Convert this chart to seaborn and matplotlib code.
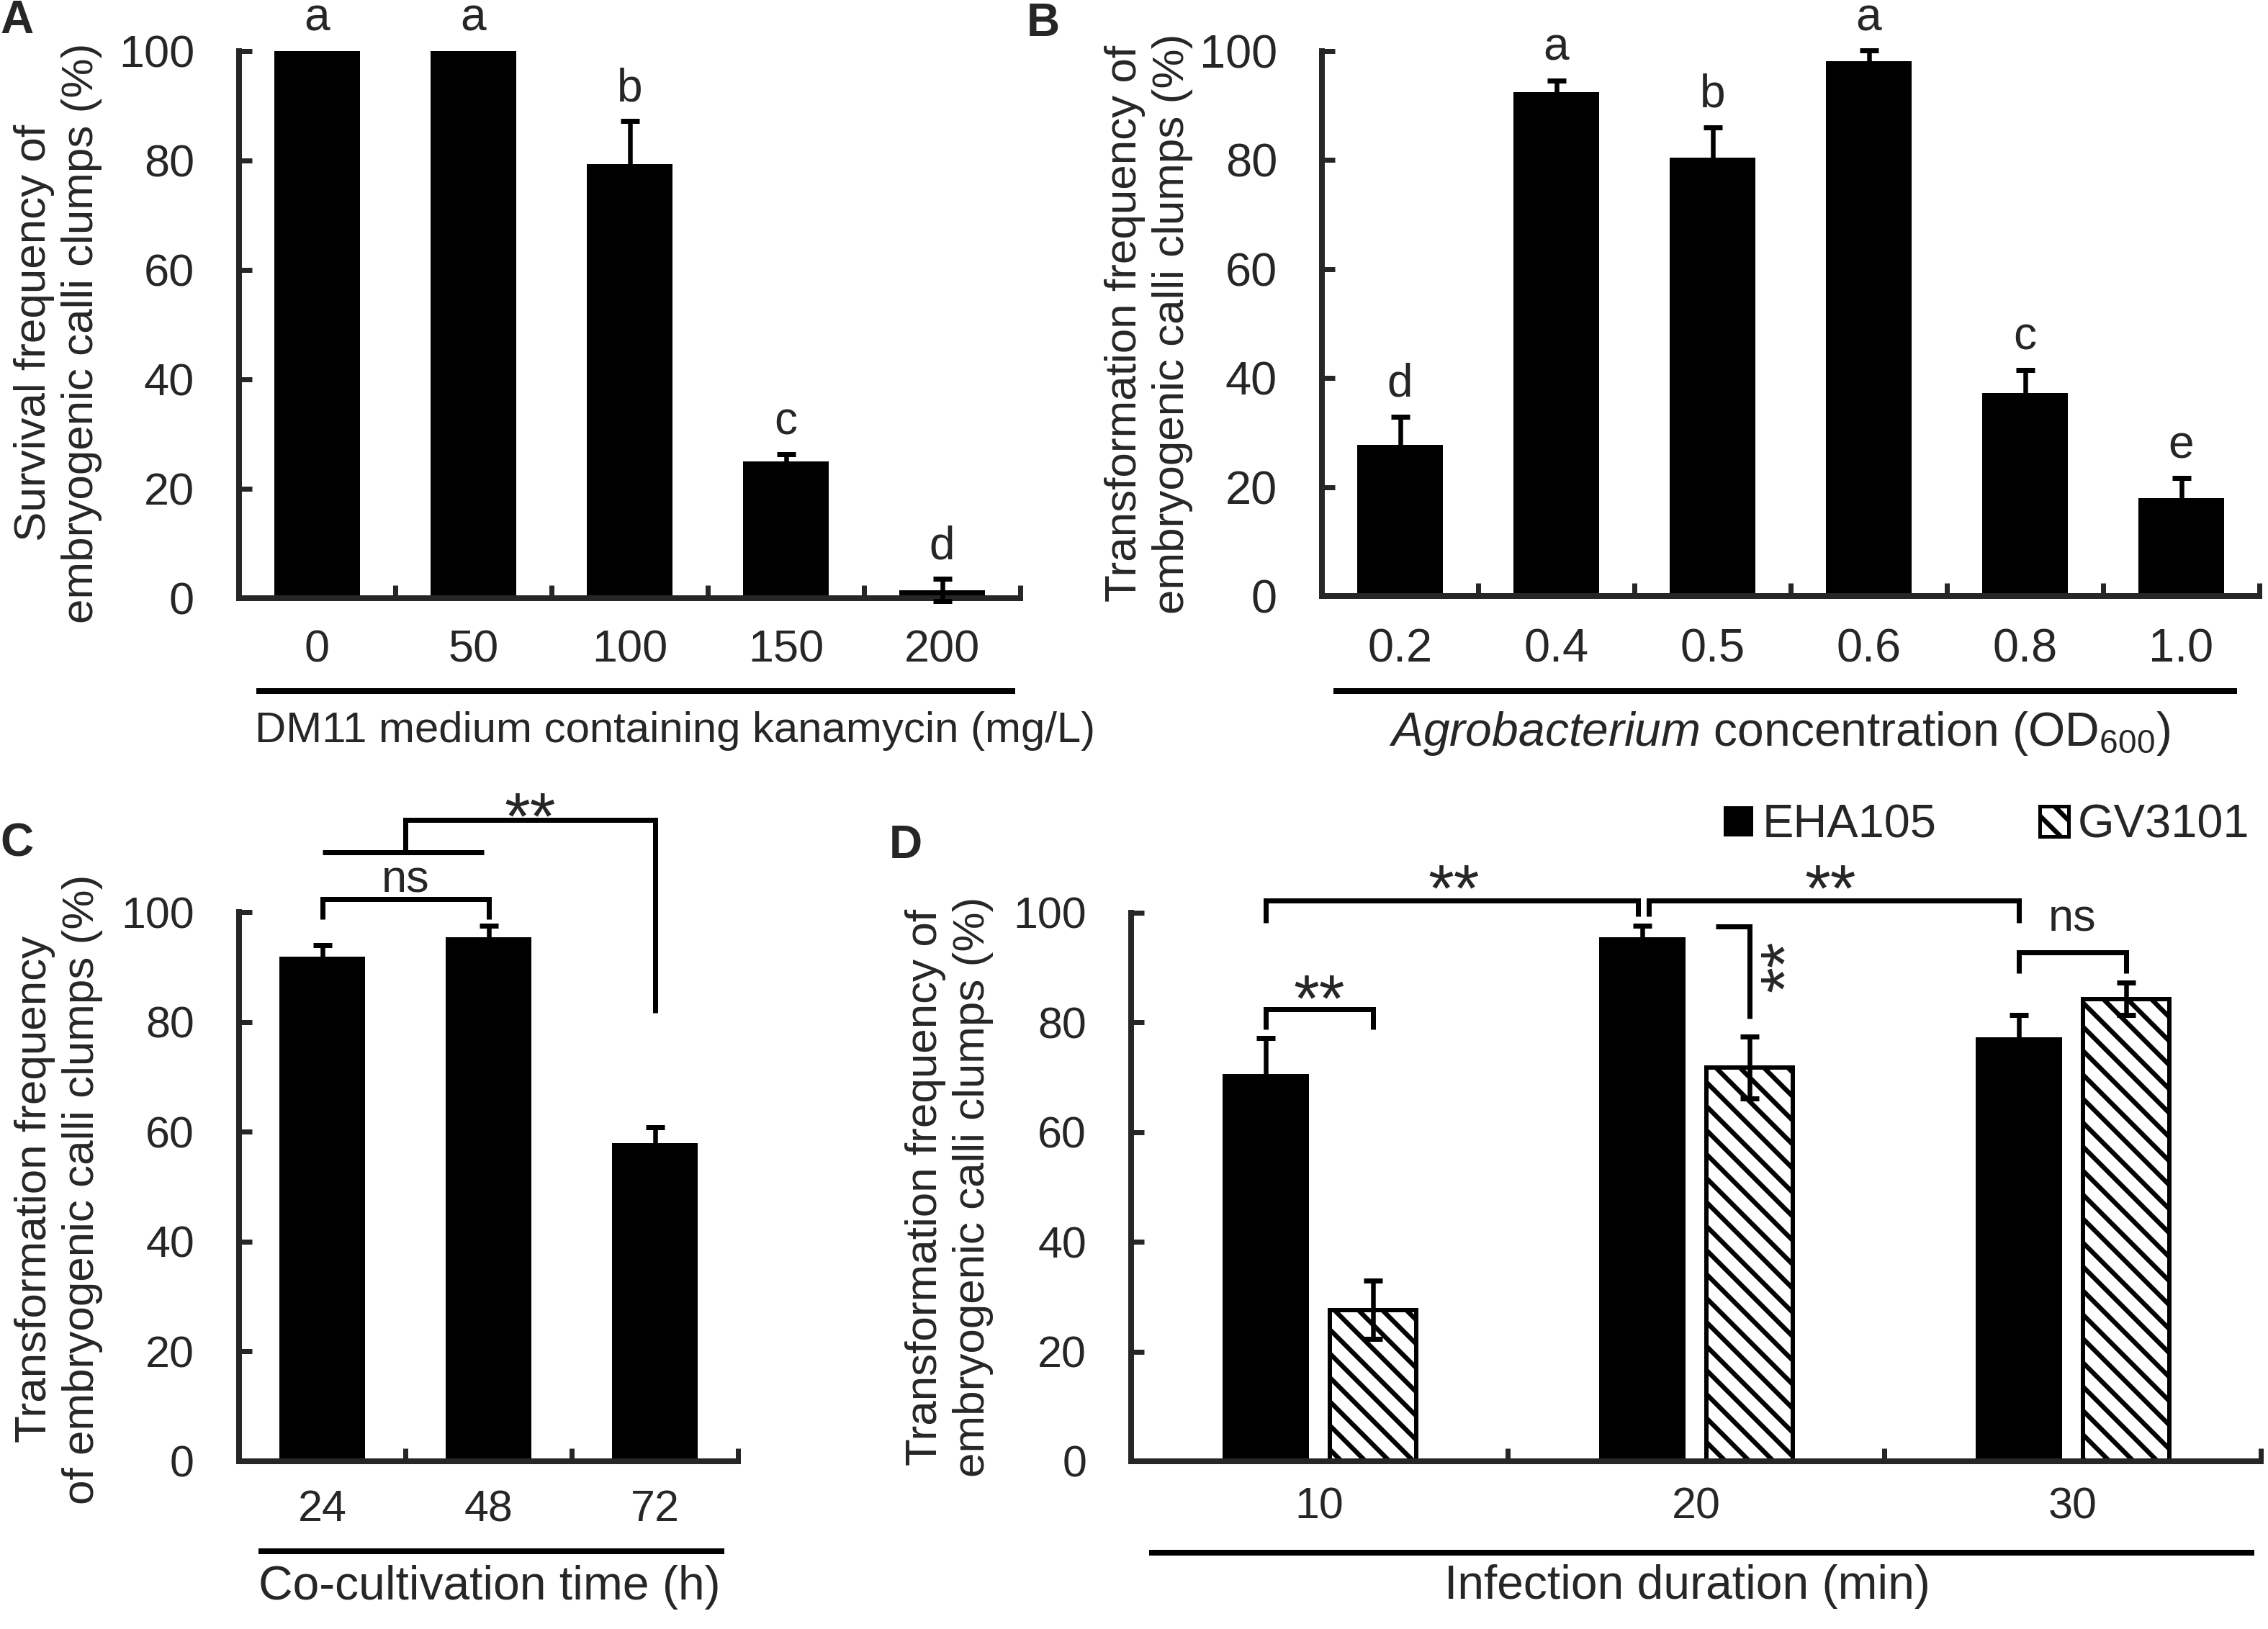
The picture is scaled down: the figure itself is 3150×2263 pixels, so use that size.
import numpy as np
import pandas as pd
import matplotlib
matplotlib.use("Agg")
import matplotlib.pyplot as plt
import matplotlib.patches as mpatches
from matplotlib.ticker import FixedLocator
import seaborn as sns

# sizes below were measured in pixels on the 3150x2263 reference
DPI = 200
W, H = 3150, 2263


def px(n):
    return n * 72.0 / DPI


# A: kanamycin selection
kan_conc = ["0", "50", "100", "150", "200"]
kan_survival = [100, 100, 79.3, 25.0, 1.5]
kan_err = [0, 0, 7.9, 1.3, 2.0]
kan_letters = ["a", "a", "b", "c", "d"]

# B: Agrobacterium concentration
od_values = ["0.2", "0.4", "0.5", "0.6", "0.8", "1.0"]
od_transform = [27.8, 92.5, 80.5, 98.1, 37.3, 17.9]
od_err = [5.1, 2.1, 5.5, 2.0, 4.2, 3.7]
od_letters = ["d", "a", "b", "a", "c", "e"]

# C: co-cultivation time
cocult_time = ["24", "48", "72"]
cocult_transform = [91.9, 95.4, 57.9]
cocult_err = [2.1, 2.1, 2.9]

# D: infection duration x strain
infection_min = ["10", "20", "30"]
strains = ["EHA105", "GV3101"]
eha105_transform = [70.6, 95.5, 77.3]
eha105_err = [6.6, 2.2, 4.0]
gv3101_transform = [27.6, 71.8, 84.3]
gv3101_err = [5.3, 5.6, 3.0]

HATCH = "\\\\"

sns.set_style("ticks")
plt.rcParams["font.family"] = ["Liberation Sans", "DejaVu Sans"]
plt.rcParams["mathtext.fontset"] = "custom"
plt.rcParams["mathtext.rm"] = "Liberation Sans"
plt.rcParams["mathtext.it"] = "Liberation Sans:italic"
plt.rcParams["hatch.linewidth"] = px(6.5)
plt.rcParams["hatch.color"] = "black"

fig = plt.figure(figsize=(W / DPI, H / DPI), dpi=DPI)


def add_axes(left, right, top, bottom):
    return fig.add_axes([left / W, 1 - bottom / H, (right - left) / W, (bottom - top) / H])


axA = add_axes(332, 1417, 71, 831)
axB = add_axes(1836, 3138, 71, 828)
axC = add_axes(332, 1025, 1267, 2030)
axD = add_axes(1571, 3140, 1268, 2030)


def style_axis(ax, n, tick_fs, xpad):
    ax.set_xlim(-0.5, n - 0.5)
    ax.set_ylim(0, 100)
    ax.set_yticks(range(0, 101, 20))
    sns.despine(ax=ax)
    for s in ["left", "bottom"]:
        ax.spines[s].set_linewidth(px(8))
        ax.spines[s].set_capstyle("projecting")
    ax.tick_params(axis="y", direction="in", length=px(18), width=px(7),
                   pad=px(62), labelsize=px(tick_fs))
    ax.tick_params(axis="x", which="major", length=0, pad=px(xpad), labelsize=px(tick_fs))
    ax.xaxis.set_minor_locator(FixedLocator(np.arange(n + 1) - 0.5))
    ax.tick_params(axis="x", which="minor", direction="in", length=px(18), width=px(7))


def centers(container):
    return np.array([p.get_x() + p.get_width() / 2 for p in container])


def add_errors(ax, xs, vals, errs):
    xs, vals, errs = np.asarray(xs), np.asarray(vals, float), np.asarray(errs, float)
    m = errs > 0
    ax.errorbar(xs[m], vals[m], yerr=errs[m], fmt="none", ecolor="black",
                elinewidth=px(6.5), capsize=px(13), capthick=px(7),
                clip_on=False, zorder=4)


def add_letters(ax, xs, vals, errs, letters):
    for x, v, e, t in zip(xs, vals, errs, letters):
        ax.text(x, v + e + 3.7, t, ha="center", va="baseline",
                fontsize=px(64), clip_on=False)


def underline(ax, x0, x1, y):
    ax.plot([x0, x1], [y, y], transform=ax.transAxes, color="black",
            lw=px(8), clip_on=False, solid_capstyle="butt")


def labels(ax, xlab, ylab, xpos, ypos, xfs, yfs=62):
    ax.set_xlabel(xlab, fontsize=px(xfs))
    ax.xaxis.set_label_coords(*xpos)
    ax.xaxis.label.set_va("center")
    ax.set_ylabel(ylab, fontsize=px(yfs))
    ax.yaxis.set_label_coords(*ypos)
    ax.yaxis.label.set_va("center")


def bracket(ax, x1, x2, y, y1_low, y2_low):
    ax.plot([x1, x1, x2, x2], [y1_low, y, y, y2_low], color="black", lw=px(7),
            solid_joinstyle="miter", solid_capstyle="butt", clip_on=False)


def mark(ax, x, y_ink, s, size, rise):
    # place text so the glyph ink is centred on y_ink
    ax.annotate(s, (x, y_ink), xytext=(0, -rise * px(size)), textcoords="offset points",
                ha="center", va="baseline", fontsize=px(size), annotation_clip=False)


STAR = 92

# ---- A ----
sns.barplot(x=kan_conc, y=kan_survival, color="black", saturation=1, width=0.55,
            errorbar=None, linewidth=0, ax=axA)
style_axis(axA, len(kan_conc), 63, 42)
xa = centers(axA.containers[0])
add_errors(axA, xa, kan_survival, kan_err)
add_letters(axA, xa, kan_survival, kan_err, kan_letters)
underline(axA, 0.022, 0.994, -0.170)
labels(axA, "DM11 medium containing kanamycin (mg/L)",
       "Survival frequency of\nembryogenic calli clumps (%)",
       (0.558, -0.243), (-0.232, 0.485), 60)

# ---- B ----
sns.barplot(x=od_values, y=od_transform, color="black", saturation=1, width=0.545,
            errorbar=None, linewidth=0, ax=axB)
style_axis(axB, len(od_values), 65, 45)
xb = centers(axB.containers[0])
add_errors(axB, xb, od_transform, od_err)
add_letters(axB, xb, od_transform, od_err, od_letters)
underline(axB, 0.012, 0.976, -0.174)
labels(axB, r"$\it{Agrobacterium}$ concentration (OD$_{600}$)",
       "Transformation frequency of\nembryogenic calli clumps (%)",
       (0.488, -0.252), (-0.185, 0.5), 66)

# ---- C ----
sns.barplot(x=cocult_time, y=cocult_transform, color="black", saturation=1, width=0.515,
            errorbar=None, linewidth=0, ax=axC)
style_axis(axC, len(cocult_time), 61, 39)
xc = centers(axC.containers[0])
add_errors(axC, xc, cocult_transform, cocult_err)
underline(axC, 0.039, 0.973, -0.164)
labels(axC, "Co-cultivation time (h)",
       "Transformation frequency\nof embryogenic calli clumps (%)",
       (0.502, -0.229), (-0.362, 0.495), 66)

bracket(axC, xc[0], xc[1], 102.4, 98.7, 98.7)
mark(axC, (xc[0] + xc[1]) / 2, 105.8, "ns", 63, 0.26)
mid01 = (xc[0] + xc[1]) / 2
axC.plot([xc[0], xc[1] - 0.03], [110.9, 110.9], color="black", lw=px(7),
         solid_capstyle="butt", clip_on=False)
bracket(axC, mid01, xc[2], 116.8, 110.9, 81.7)
mark(axC, (mid01 + xc[2]) / 2, 120.2, "**", STAR, 0.57)

# ---- D ----
df_d = pd.DataFrame({
    "duration": infection_min * 2,
    "strain": [strains[0]] * 3 + [strains[1]] * 3,
    "value": eha105_transform + gv3101_transform,
})
sns.barplot(data=df_d, x="duration", y="value", hue="strain", palette=["black", "white"],
            saturation=1, width=0.57, gap=0.19, errorbar=None, legend=False,
            linewidth=0, ax=axD)
for p in axD.containers[1]:
    p.set_facecolor("white")
    p.set_edgecolor("black")
    p.set_hatch(HATCH)
    p.set_linewidth(px(6))
style_axis(axD, len(infection_min), 61, 35)
axD.set_xlabel("")
xe = centers(axD.containers[0])
xg = centers(axD.containers[1])
add_errors(axD, xe, eha105_transform, eha105_err)
add_errors(axD, xg, gv3101_transform, gv3101_err)
underline(axD, 0.016, 0.994, -0.167)
labels(axD, "Infection duration (min)",
       "Transformation frequency of\nembryogenic calli clumps (%)",
       (0.492, -0.228), (-0.161, 0.5), 66)

bracket(axD, xe[0], xe[1] - 0.012, 102.2, 98.2, 99.3)
mark(axD, (xe[0] + xe[1]) / 2, 107.2, "**", STAR, 0.57)
bracket(axD, xe[1] + 0.018, xe[2], 102.2, 99.3, 98.2)
mark(axD, (xe[1] + xe[2]) / 2, 107.2, "**", STAR, 0.57)
bracket(axD, xe[0], xg[0], 82.4, 78.7, 78.7)
mark(axD, (xe[0] + xg[0]) / 2, 87.1, "**", STAR, 0.57)
axD.plot([xg[1] - 0.09, xg[1], xg[1]], [97.5, 97.5, 80.7], color="black", lw=px(7),
         solid_joinstyle="miter", solid_capstyle="butt", clip_on=False)
axD.text(xg[1] + 0.105, 90.2, "**", rotation=90, ha="center", va="center",
         fontsize=px(STAR), clip_on=False)
bracket(axD, xe[2], xg[2], 92.8, 89.0, 89.0)
mark(axD, (xe[2] + xg[2]) / 2, 98.8, "ns", 63, 0.26)

handles = [
    mpatches.Patch(facecolor="black", edgecolor="black", linewidth=0, label=strains[0]),
    mpatches.Patch(facecolor="white", edgecolor="black", hatch=HATCH, linewidth=px(5),
                   label=strains[1]),
]
axD.legend(handles=handles, loc="center right", bbox_to_anchor=(0.99, 1.159), ncol=2,
           frameon=False, fontsize=px(65), handlelength=0.62, handleheight=0.62,
           handletextpad=0.2, columnspacing=2.2, borderpad=0, borderaxespad=0)

# panel letters
for letter, x, y in [("A", 0, 46), ("B", 1426, 50), ("C", 0, 1190), ("D", 1235, 1192)]:
    fig.text(x / W, 1 - y / H, letter, fontsize=px(64), fontweight="bold",
             ha="left", va="baseline")

fig.savefig("out.png", dpi=DPI)
